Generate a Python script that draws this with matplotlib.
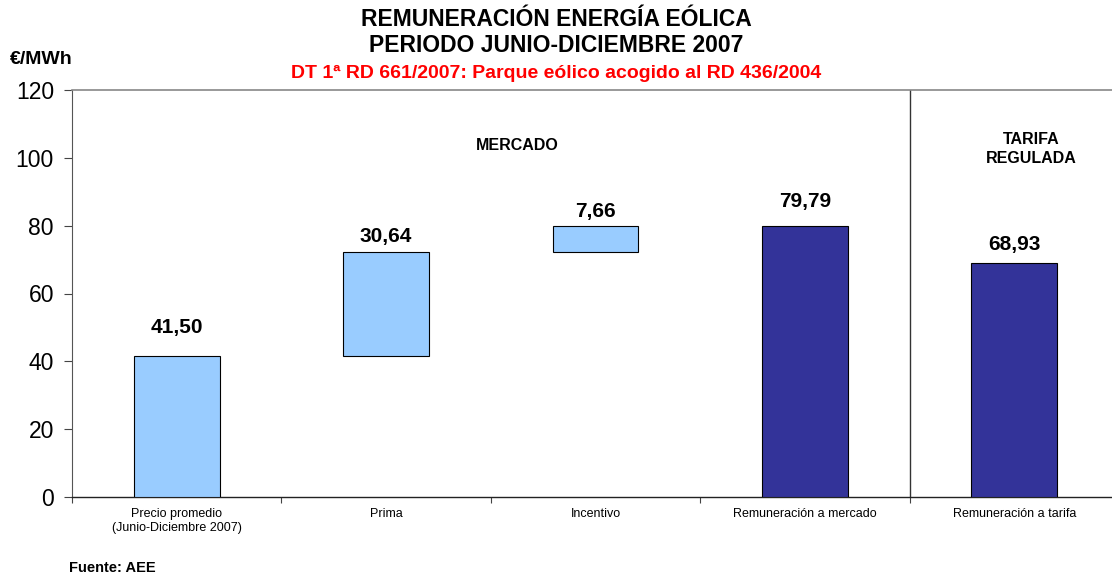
import matplotlib.pyplot as plt
import numpy as np

plt.rcParams['font.family'] = ['Liberation Sans', 'DejaVu Sans']

categorias = ['Precio promedio\n(Junio-Diciembre 2007)', 'Prima', 'Incentivo',
              'Remuneración a mercado', 'Remuneración a tarifa']
alturas = [41.50, 30.64, 7.66, 79.79, 68.93]
bases = [0, 41.50, 72.14, 0, 0]
etiquetas = ['41,50', '30,64', '7,66', '79,79', '68,93']
colores = ['#99CCFF', '#99CCFF', '#99CCFF', '#333399', '#333399']

fig = plt.figure(figsize=(11.12, 5.75), dpi=100)
ax = fig.add_axes([72/1112, 1 - 497/575, (1119 - 72)/1112, (497 - 90)/575])

x = np.arange(len(categorias))
ax.bar(x, alturas, bottom=bases, width=0.41, color=colores,
       edgecolor='black', linewidth=0.8, zorder=3)

# value labels above each bar (offset in points, as in the original)
desfase = [21, 11.5, 11, 18, 13.7]
for xi, b, h, t, d in zip(x, bases, alturas, etiquetas, desfase):
    ax.annotate(t, (xi, b + h), xytext=(0, d), textcoords='offset points',
                ha='center', va='center', fontsize=15, fontweight='bold')

ax.set_xlim(-0.5, len(categorias) - 0.5)
ax.set_ylim(0, 120)
ax.set_yticks(range(0, 121, 20))
ax.tick_params(axis='y', labelsize=16.5, length=6, width=0.8, color='#444444', pad=7)

ax.set_xticks(np.arange(-0.5, len(categorias), 1))
ax.set_xticklabels([])
ax.set_xticks(x, minor=True)
ax.set_xticklabels(categorias, minor=True, fontsize=9)
ax.tick_params(axis='x', which='major', length=4, width=0.8, color='#444444')
ax.tick_params(axis='x', which='minor', length=0, pad=8)

ax.spines['right'].set_visible(False)
ax.spines['top'].set_color('#888888')
ax.spines['top'].set_linewidth(1.2)
ax.spines['left'].set_color('#555555')
ax.spines['bottom'].set_color('#222222')
ax.spines['bottom'].set_linewidth(1.0)

ax.axvline(3.5, color='#333333', linewidth=1.0, zorder=2)

ax.text(1.625, 103.5, 'MERCADO', ha='center', va='center', fontsize=11.5,
        fontweight='bold')
ax.text(4.08, 102.6, 'TARIFA\nREGULADA', ha='center', va='center', fontsize=11.5,
        fontweight='bold', linespacing=1.35)

fig.text(0.5, 1 - 20/575, 'REMUNERACIÓN ENERGÍA EÓLICA', ha='center', va='center',
         fontsize=16.5, fontweight='bold')
fig.text(0.5, 1 - 46/575, 'PERIODO JUNIO-DICIEMBRE 2007', ha='center', va='center',
         fontsize=16.5, fontweight='bold')
fig.text(0.5, 1 - 73/575, 'DT 1ª RD 661/2007: Parque eólico acogido al RD 436/2004',
         ha='center', va='center', fontsize=14, fontweight='bold', color='#FF0000')
fig.text(10/1112, 1 - 60/575, '€/MWh', ha='left', va='center', fontsize=14,
         fontweight='bold')
fig.text(69/1112, 1 - 568/575, 'Fuente: AEE', ha='left', va='center', fontsize=10.5,
         fontweight='bold')

fig.savefig('out.png', dpi=100)
